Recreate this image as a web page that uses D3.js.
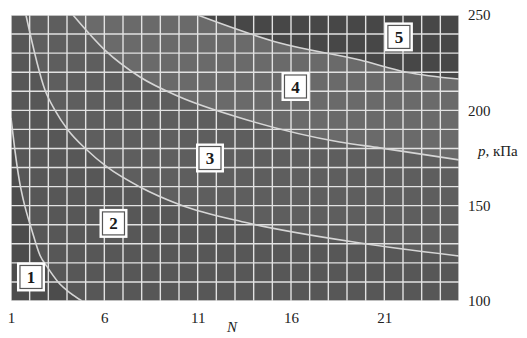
<!DOCTYPE html>
<html><head><meta charset="utf-8">
<script src="https://cdn.jsdelivr.net/npm/d3@7"></script>
<style>
html,body{margin:0;padding:0;background:#fff;}
svg{display:block;}
text{font-family:"Liberation Serif","DejaVu Serif",serif;}
</style></head>
<body>
<svg id="c" width="527" height="338"></svg>
<script>
// ---- data ----
const xTicks = [1, 6, 11, 16, 21];
const yTicks = [100, 150, 200, 250];
const curve1 = [[1,196],[1.05,192],[1.21,179],[1.45,163],[1.66,153],[2.12,137],[2.55,124],[2.93,118],[3.52,110],[4.2,104],[4.8,100]];
const curve2 = [[1.8,250],[2.82,210.7],[3.36,200],[4.05,189.7],[5.07,179.2],[6.14,170.3],[7.91,159.8],[10.05,150.5],[13.64,141],[19.7,130.4],[25,123.6]];
const curve3 = [[4.32,250],[6.03,231.6],[7.91,217.5],[10.05,207],[13.3,196],[18.6,183.4],[20.76,180.3],[25,174]];
const curve4 = [[11,250],[15.4,235.3],[19.7,226.4],[22.2,220],[25,216.4]];
const zoneLabels = ["1","2","3","4","5"];
const zoneN = [2.07, 6.49, 11.66, 16.24, 21.78];
const zoneP = [112.6, 140.7, 175, 212.5, 238.5];
const zoneColors = ["#4c4c4c","#575757","#5e5e5e","#6a6a6a","#474747"];

// ---- layout ----
const mL = 11, mR = 459, mT = 15, mB = 301;
const x = d3.scaleLinear().domain([1, 25]).range([mL, mR]);
const y = d3.scaleLinear().domain([100, 250]).range([mB, mT]);
const svg = d3.select("#c");

svg.append("clipPath").attr("id","clip").append("rect")
  .attr("x", mL).attr("y", mT).attr("width", mR-mL).attr("height", mB-mT);
const g = svg.append("g").attr("clip-path","url(#clip)");

// base zone 1
g.append("rect").attr("x", mL).attr("y", mT).attr("width", mR-mL).attr("height", mB-mT)
  .attr("fill", zoneColors[0]);

const curves = [curve1, curve2, curve3, curve4];
const lineGen = d3.line().x(d => x(d[0])).y(d => y(d[1])).curve(d3.curveMonotoneX);
curves.forEach((c, i) => {
  const path = lineGen(c) + `L${x(25)},${y(100)}L${x(25)},${y(250)}L${x(1)},${y(250)}Z`;
  g.append("path").attr("d", path).attr("fill", zoneColors[i+1]);
});

// grid
const gridColor = "#e2e2e2";
d3.range(1, 26).forEach(n => {
  g.append("line").attr("x1", x(n)).attr("x2", x(n)).attr("y1", mT).attr("y2", mB)
    .attr("stroke", gridColor).attr("stroke-width", 1.4);
});
d3.range(100, 251, 10).forEach(p => {
  g.append("line").attr("x1", mL).attr("x2", mR).attr("y1", y(p)).attr("y2", y(p))
    .attr("stroke", gridColor).attr("stroke-width", 1.4);
});

// curves
curves.forEach(c => {
  g.append("path").attr("d", lineGen(c)).attr("fill","none")
    .attr("stroke","#d6d6d6").attr("stroke-width",1.6);
});

// zone labels
zoneLabels.forEach((t, i) => {
  const cx = x(zoneN[i]), cy = y(zoneP[i]);
  svg.append("rect").attr("x", cx-14).attr("y", cy-14.5).attr("width", 28).attr("height", 29)
    .attr("fill","#fff");
  svg.append("rect").attr("x", cx-11).attr("y", cy-11.5).attr("width", 22).attr("height", 23)
    .attr("fill","#fff").attr("stroke","#555").attr("stroke-width",1.2);
  svg.append("text").attr("x", cx).attr("y", cy+6).attr("text-anchor","middle")
    .attr("font-size", 17).attr("font-weight","bold").attr("fill","#1a1a1a").text(t);
});

// axes
const xAxis = svg.append("g").attr("transform", `translate(0,${mB})`)
  .call(d3.axisBottom(x).tickValues(xTicks).tickSize(0).tickPadding(11).tickFormat(d3.format("d")));
xAxis.select(".domain").remove();
xAxis.selectAll("text").attr("font-size",15).attr("fill","#222").attr("font-family","Liberation Serif, serif");

const yAxis = svg.append("g").attr("transform", `translate(${mR},0)`)
  .call(d3.axisRight(y).tickValues(yTicks).tickSize(0).tickPadding(9).tickFormat(d3.format("d")));
yAxis.select(".domain").remove();
yAxis.selectAll("text").attr("font-size",15).attr("fill","#222").attr("font-family","Liberation Serif, serif");

svg.append("text").attr("x", 232).attr("y", 332).attr("text-anchor","middle")
  .attr("font-size",15).attr("font-style","italic").attr("fill","#222").text("N");

const pl = svg.append("text").attr("x", 478).attr("y", 156).attr("font-size",15).attr("fill","#222");
pl.append("tspan").attr("font-style","italic").text("p");
pl.append("tspan").text(", кПа");
</script>
</body></html>
